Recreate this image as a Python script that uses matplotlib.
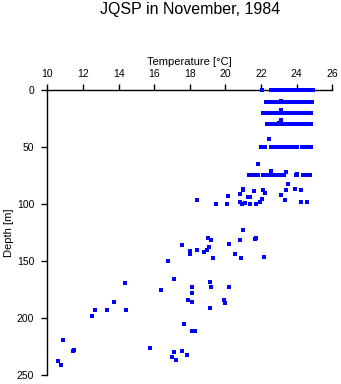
import matplotlib
matplotlib.use("Agg")
import matplotlib.pyplot as plt

# temperature [C] / depth [m] of each sample
# upper mixed layer, sampled on fixed levels
row0_t = [22.07, 22.55, 22.62, 22.70, 22.78, 22.85, 22.93, 23.00, 23.08, 23.15,
          23.22, 23.30, 23.38, 23.45, 23.52, 23.60, 23.68, 23.75, 23.82, 23.90,
          23.98, 24.05, 24.12, 24.20, 24.28, 24.35, 24.42, 24.50, 24.58, 24.65,
          24.72, 24.80, 24.88, 24.93]
row10_t = [22.29, 22.52, 22.60, 22.68, 22.76, 22.84, 22.92, 23.00, 23.08, 23.16,
           23.24, 23.32, 23.40, 23.48, 23.56, 23.64, 23.72, 23.80, 23.88, 23.96,
           24.04, 24.12, 24.20, 24.28, 24.36, 24.44, 24.52, 24.60, 24.68, 24.76,
           24.88]
row20_t = [22.12, 22.33, 22.38, 22.60, 22.68, 22.76, 22.84, 22.92, 23.00, 23.08,
           23.16, 23.24, 23.32, 23.40, 23.48, 23.56, 23.64, 23.72, 23.80, 23.88,
           23.96, 24.04, 24.12, 24.20, 24.28, 24.36, 24.44, 24.52, 24.60, 24.68,
           24.76, 24.84]
row30_t = [22.33, 22.48, 22.56, 22.64, 22.72, 22.80, 22.88, 22.96, 23.04, 23.12,
           23.20, 23.28, 23.36, 23.44, 23.52, 23.60, 23.68, 23.76, 23.84, 23.92,
           24.00, 24.08, 24.16, 24.24, 24.32, 24.40, 24.48, 24.56, 24.64, 24.72,
           24.80]
row50_t = [22.00, 22.24, 22.54, 22.62, 22.70, 22.80, 22.88, 22.96, 23.04, 23.12,
           23.20, 23.28, 23.36, 23.45, 23.53, 23.58, 23.75, 23.82, 23.96, 24.03,
           24.30, 24.38, 24.46, 24.54, 24.62, 24.70, 24.80]
row75_t = [21.32, 21.40, 21.50, 21.60, 21.70, 21.84, 22.12, 22.20, 22.28, 22.36,
           22.44, 22.52, 22.60, 22.68, 22.76, 22.84, 22.92, 23.02, 23.20, 23.30,
           23.96, 24.03, 24.37, 24.45, 24.55, 24.65, 24.75]
row_depths = [0.5, 10.8, 20.4, 29.8, 49.8, 74.6]

# scattered samples below the layer
deep_t = [23.10, 23.10, 23.12, 23.00, 22.46, 21.84, 22.56, 23.43, 24.03, 23.53,
          20.97, 21.62, 22.09, 22.20, 23.40, 23.92, 24.26, 20.16, 20.80, 21.38,
          23.14, 21.25, 22.07, 23.36, 24.27, 24.56, 18.38, 19.47, 20.10, 20.80,
          20.95, 21.10, 21.40, 21.70, 21.94, 21.00,
          20.97, 19.00, 19.20, 20.83, 21.70, 21.66, 17.57, 18.02, 18.02, 18.42,
          19.07, 18.98, 18.81, 20.23, 20.55, 20.89, 19.32, 22.18, 16.79,
          17.09, 16.39, 18.10, 18.13, 17.88, 18.10, 19.13, 19.20, 20.18, 19.92,
          19.97, 19.13, 17.69, 18.10, 18.30, 15.78, 17.13, 17.57, 17.85, 17.00,
          17.24, 14.35, 13.75, 14.43, 12.52, 12.69, 13.36,
          10.89, 11.42, 11.50, 10.61, 10.78]
deep_d = [10.0, 17.5, 26.6, 28.7, 43.3, 65.2, 70.8, 72.2, 73.4, 82.5,
          87.5, 88.3, 88.0, 90.0, 87.5, 87.1, 87.5, 93.3, 91.5, 93.6,
          92.4, 94.1, 95.3, 96.2, 98.0, 98.0, 96.2, 100.3, 100.3, 98.5,
          100.3, 99.5, 100.3, 100.3, 98.0, 87.1,
          123.0, 130.0, 132.0, 132.0, 130.0, 131.0, 136.2, 141.5, 144.0, 140.4,
          137.7, 140.4, 142.4, 135.4, 144.1, 147.4, 147.4, 146.2, 149.7,
          166.1, 175.4, 173.1, 178.4, 184.5, 186.2, 168.1, 173.1, 173.1, 184.5,
          187.1, 191.5, 205.3, 211.1, 211.1, 226.3, 230.1, 229.2, 232.2, 234.5,
          237.1, 169.6, 186.2, 193.3, 198.2, 193.3, 193.3,
          219.3, 229.2, 228.3, 238.0, 241.5]

x_ticks = [10, 12, 14, 16, 18, 20, 22, 24, 26]
y_ticks = [0, 50, 100, 150, 200, 250]

plt.rcParams["font.family"] = ["Liberation Sans", "DejaVu Sans"]

fig = plt.figure(figsize=(3.41, 3.84), dpi=100)
ax = fig.add_axes([0.139, 0.0234, 0.835, 0.7426])

# build flat lists for the layer rows
rows = [row0_t, row10_t, row20_t, row30_t, row50_t, row75_t]
all_t = []
all_d = []
for temps, d in zip(rows, row_depths):
    all_t += temps
    all_d += [d] * len(temps)
all_t += deep_t
all_d += deep_d

# markers sit on top of the spine, like the surface row in the original
ax.plot(all_t, all_d, linestyle="none", marker="s", markersize=2.2,
        color="#0000ff", markeredgewidth=0, zorder=5, clip_on=False)

ax.set_xlim(10, 26)
ax.set_ylim(250, 0)
ax.set_xticks(x_ticks)
ax.set_yticks(y_ticks)
ax.xaxis.tick_top()
ax.xaxis.set_label_position("top")
ax.tick_params(direction="out", length=4, width=1, labelsize=7.5)
ax.tick_params(axis="x", pad=4)
ax.tick_params(axis="y", pad=5.5)

for side in ["right", "bottom"]:
    ax.spines[side].set_visible(False)
for side in ["top", "left"]:
    ax.spines[side].set_linewidth(1)

ax.set_xlabel("Temperature [°C]", fontsize=8, labelpad=3)
ax.set_ylabel("Depth [m]", fontsize=8, labelpad=2)

fig.text(0.557, 0.995, "JQSP in November, 1984", ha="center", va="top",
         fontsize=11.5)

fig.savefig("out.png", dpi=100)
